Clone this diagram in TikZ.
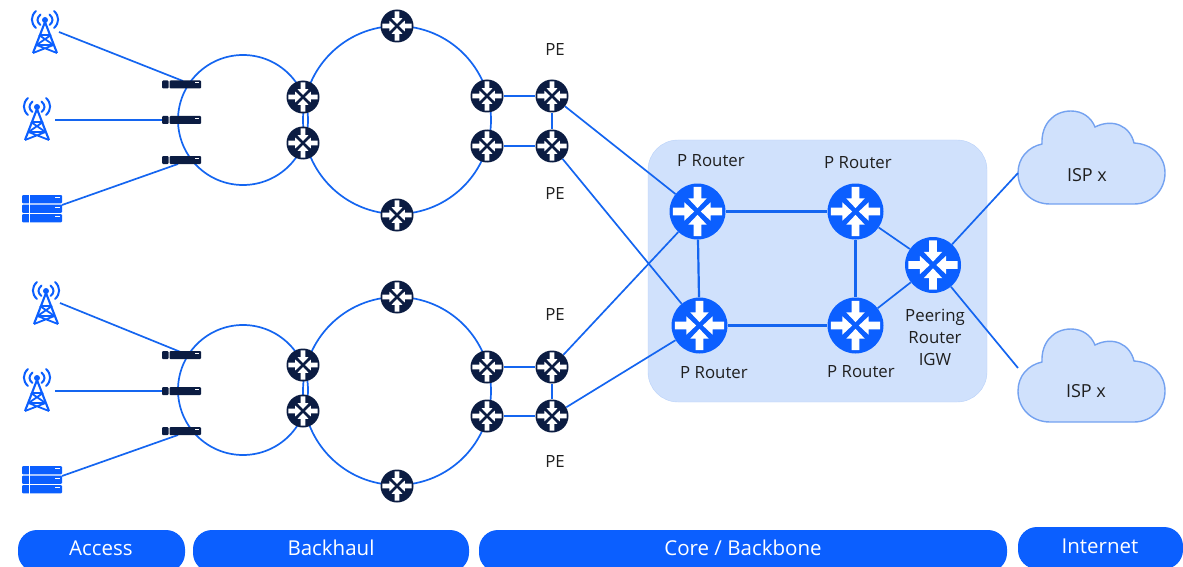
\documentclass[tikz,border=0pt]{standalone}
\usepackage{fontspec}
\setmainfont{Open Sans}
\definecolor{lnk}{HTML}{1465F0}
\definecolor{pri}{HTML}{0B5FFF}
\definecolor{dark}{HTML}{0B1C42}
\definecolor{panel}{HTML}{D0E1FC}
\definecolor{edge}{HTML}{74A2F0}
\tikzset{
  x=1pt,y=-1pt,
  link/.style={draw=lnk,line width=1.7pt},
  straightlink/.style={draw=lnk,line width=2.2pt},
  ring/.style={circle,draw=lnk,line width=1.7pt,inner sep=0pt,minimum size=#1},
  rnode/.style={circle,fill=#1,inner sep=0pt},
  lbl/.style={font=\fontsize{16.8}{22}\selectfont,text=black!88,align=center,inner sep=0pt},
  isplbl/.style={font=\fontsize{18}{22}\selectfont,text=black!88,inner sep=0pt},
  pill/.style={rounded corners=19pt,fill=pri,inner sep=0pt,anchor=center},
  pilltext/.style={text=white,font=\fontsize{20.5}{24}\selectfont,inner sep=0pt},
  devb/.style={fill=dark,rounded corners=1pt},
}
% \rtr{name}{x}{y}{radius}{colour}
\newcommand{\rtr}[5]{%
  \node[rnode=#5,minimum size=#4*2pt] (#1) at (#2,#3) {};
  \begin{scope}[shift={(#2,#3)},x=#4pt,y=#4pt]
    \foreach \a in {0,90,180,270}{
      \fill[white,rotate=\a] (-0.14,-0.88) -- (0.14,-0.88) -- (0.14,-0.47) -- (0.33,-0.47) -- (0,-0.12) -- (-0.33,-0.47) -- (-0.14,-0.47) -- cycle;
    }
  \end{scope}}
% \twr{x}{y}: tower centred at x, top of waves at y
\newcommand{\twr}[2]{%
  \begin{scope}[shift={(#1,#2)}]
    \fill[pri] (0,10) circle (3);
    \foreach \s in {-1,1}{
      \draw[pri,line width=2pt,line cap=round] (\s*4.5,4.5) .. controls (\s*8.5,8) and (\s*8.5,12) .. (\s*4.5,15);
      \draw[pri,line width=2pt,line cap=round] (\s*9,1) .. controls (\s*14.5,6) and (\s*14.5,13) .. (\s*9,18);
      \draw[pri,line width=2.1pt] (0,12) -- (\s*12,43);
    }
    \draw[pri,line width=1.8pt] (-6,25) -- (6,25) (-6,25) -- (8.5,35) (6,25) -- (-8.5,35) (-8.5,35) -- (8.5,35) (-8.5,35) -- (12,43) (8.5,35) -- (-12,43);
  \end{scope}}
% \srv{x}{y}: server stack
\newcommand{\srv}[2]{%
  \begin{scope}[shift={(#1,#2)}]
    \foreach \k in {0,9.5,19}{
      \fill[pri,rounded corners=1pt] (0,\k) rectangle (40,\k+8.3);
      \fill[white] (33,\k+2) rectangle (37.5,\k+3.2);
    }
    \fill[white] (6.6,0) rectangle (7.4,27.5);
  \end{scope}}
% \dev{name}{x}{y}: modem centred at x,y
\newcommand{\dev}[3]{%
  \coordinate (#1) at (#2,#3);
  \begin{scope}[shift={(#2,#3)}]
    \fill[devb] (-19.5,-4) rectangle (-13,4);
    \fill[devb] (-12,-4) rectangle (19.5,4);
    \fill[white] (13,-2.3) rectangle (17.5,-1.2);
  \end{scope}}
% \cloudy{x}{y}: cloud, offset from top one
\newcommand{\cloudy}[2]{%
  \begin{scope}[shift={(#1,#2)}]
    \draw[edge,fill=panel,line width=1.4pt]
      (1050,204) .. controls (1031,204) and (1018,190) .. (1018,173)
      .. controls (1018,158) and (1028,147) .. (1042,144)
      .. controls (1041,125) and (1053,111) .. (1071,111)
      .. controls (1082,111) and (1091,117) .. (1095,127)
      .. controls (1113,118) and (1130,126) .. (1134,143)
      .. controls (1152,144) and (1165,156) .. (1165,173)
      .. controls (1165,190) and (1152,204) .. (1134,204) -- cycle;
  \end{scope}}
\begin{document}
\begin{tikzpicture}
\useasboundingbox (0,0) rectangle (1183,567);
% panel
\node[draw=panel!75!edge,fill=panel,rounded corners=30pt,minimum width=339pt,minimum height=262pt,inner sep=0pt] (core) at (817.5,271) {};
% clouds
\cloudy{0}{0}
\cloudy{0}{218}
\coordinate (c1) at (1018,173);
\coordinate (c2) at (1018,368);
% rings
\node[ring=130pt] (r1) at (243,120) {};
\node[ring=188pt] (r2) at (397,120) {};
\node[ring=130pt] (r3) at (243,390) {};
\node[ring=188pt] (r4) at (397,391) {};
% anchors for links
\coordinate (a1) at (183,81);
\coordinate (a2) at (165,120);
\coordinate (a3) at (178,164);
\coordinate (a4) at (188,355);
\coordinate (a5) at (165,391);
\coordinate (a6) at (178,435);
\coordinate (t1) at (59,32);
\coordinate (t2) at (55,120);
\coordinate (s1) at (62,205);
\coordinate (t3) at (60,303);
\coordinate (t4) at (55,391);
\coordinate (s2) at (62,476);
\draw[link] (t1) -- (a1);
\draw[link] (t2) -- (a2);
\draw[link] (s1) -- (a3);
\draw[link] (t3) -- (a4);
\draw[link] (t4) -- (a5);
\draw[link] (s2) -- (a6);
% icons
\twr{45}{10}
\twr{37}{97}
\srv{22}{195}
\twr{46}{281}
\twr{37}{368}
\srv{22}{466}
\dev{d1}{181.5}{84.5}
\dev{d2}{181.5}{120}
\dev{d3}{181.5}{160}
\dev{d4}{181.5}{355}
\dev{d5}{181.5}{391}
\dev{d6}{181.5}{431}
% routers
\rtr{u1}{397}{26}{16.5}{dark}
\rtr{u2}{397}{215}{16.5}{dark}
\rtr{u3}{303}{97}{16.5}{dark}
\rtr{u4}{303}{143}{16.5}{dark}
\rtr{u5}{487}{96}{16.5}{dark}
\rtr{u6}{487}{146}{16.5}{dark}
\rtr{pe1}{552}{96}{16.5}{dark}
\rtr{pe2}{552}{146}{16.5}{dark}
\rtr{l1}{397}{297}{16.5}{dark}
\rtr{l2}{397}{486}{16.5}{dark}
\rtr{l3}{303}{365}{16.5}{dark}
\rtr{l4}{303}{411}{16.5}{dark}
\rtr{l5}{487}{367}{16.5}{dark}
\rtr{l6}{487}{416}{16.5}{dark}
\rtr{pe3}{552}{367}{16.5}{dark}
\rtr{pe4}{552}{416}{16.5}{dark}
\rtr{p1}{697.5}{211.5}{28}{pri}
\rtr{p2}{855.5}{211.5}{28}{pri}
\rtr{p3}{699.5}{325.5}{28}{pri}
\rtr{p4}{855.5}{325.5}{28}{pri}
\rtr{igw}{933}{265}{28}{pri}
% connectors
\draw[link] (u5) -- (pe1);
\draw[link] (u6) -- (pe2);
\draw[link] (pe1) -- (pe2);
\draw[link] (l5) -- (pe3);
\draw[link] (l6) -- (pe4);
\draw[link] (pe3) -- (pe4);
\draw[link] (pe1) -- (p1);
\draw[link] (pe2) -- (p3);
\draw[link] (pe3) -- (p1);
\draw[link] (pe4) -- (p3);
\draw[straightlink] (p1) -- (p2);
\draw[straightlink] (p1) -- (p3);
\draw[straightlink] (p3) -- (p4);
\draw[straightlink] (p2) -- (p4);
\draw[link] (p2) -- (igw);
\draw[link] (p4) -- (igw);
\draw[link] (igw) -- (c1);
\draw[link] (igw) -- (c2);
% labels
\node[lbl] (lpe1) at (555,50) {PE};
\node[lbl] (lpe2) at (555,194) {PE};
\node[lbl] (lpe3) at (555,315) {PE};
\node[lbl] (lpe4) at (555,461) {PE};
\node[lbl] (lp1) at (711,161) {P Router};
\node[lbl] (lp2) at (858,163) {P Router};
\node[lbl] (lp3) at (714,373) {P Router};
\node[lbl] (lp4) at (861,372) {P Router};
\node[lbl] (ligw) at (935,337) {Peering\\Router\\IGW};
\node[isplbl] (isp1) at (1087,175) {ISP x};
\node[isplbl] (isp2) at (1086,391) {ISP x};
% pills
\node[pill,minimum width=167pt,minimum height=42pt] (pa) at (101.5,551) {};
\node[pill,minimum width=276pt,minimum height=42pt] (pb) at (331,551) {};
\node[pill,minimum width=528pt,minimum height=42pt] (pc) at (743,551) {};
\node[pill,minimum width=165pt,minimum height=42pt] (pd) at (1100.5,548) {};
\node[pilltext] (ta) at (101,548) {Access};
\node[pilltext] (tb) at (331,548) {Backhaul};
\node[pilltext] (tc) at (743,548) {Core / Backbone};
\node[pilltext] (td) at (1100,546) {Internet};
\end{tikzpicture}
\end{document}
